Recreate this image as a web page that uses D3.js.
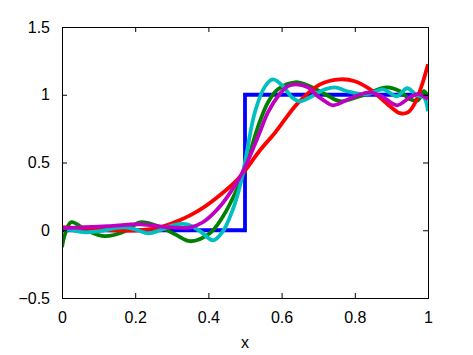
<!DOCTYPE html>
<html>
<head>
<meta charset="utf-8">
<script src="https://cdn.jsdelivr.net/npm/d3@7"></script>
<style>
  html, body { margin: 0; padding: 0; background: #fff; }
  svg { display: block; }
  text { font-family: "Liberation Sans", Arial, Helvetica, sans-serif; font-size: 16px; fill: #000; }
</style>
</head>
<body>
<svg id="chart" width="473" height="355"></svg>
<script>
// ---- data ----
const xTicks = [0, 0.2, 0.4, 0.6, 0.8, 1];
const yTicks = [-0.5, 0, 0.5, 1, 1.5];
const xLabel = "x";

const stepX = [0, 0.5, 0.5, 1];
const stepY = [0, 0, 1, 1];

const redX = [0, 0.049, 0.131, 0.213, 0.268, 0.309, 0.35, 0.385, 0.432, 0.478, 0.5, 0.541, 0.582, 0.645, 0.705, 0.76, 0.8, 0.842, 0.896, 0.923, 0.945, 0.964, 0.984, 1];
const redY = [0.022, 0.015, 0, 0, 0.022, 0.06, 0.11, 0.165, 0.26, 0.37, 0.44, 0.59, 0.72, 0.94, 1.077, 1.114, 1.1, 1.04, 0.915, 0.864, 0.87, 0.937, 1.077, 1.225];

const greenX = [0, 0.008, 0.025, 0.071, 0.117, 0.172, 0.213, 0.262, 0.309, 0.35, 0.404, 0.44, 0.478, 0.5, 0.536, 0.563, 0.59, 0.637, 0.683, 0.719, 0.76, 0.814, 0.888, 0.923, 0.951, 0.973, 0.989, 1];
const greenY = [-0.125, -0.03, 0.059, -0.007, -0.044, -0.007, 0.059, 0.03, -0.03, -0.081, -0.022, 0.103, 0.303, 0.45, 0.768, 0.945, 1.04, 1.092, 1.055, 1.004, 0.952, 0.989, 1.055, 1.026, 0.967, 0.96, 1.026, 0.98];

const cyanX = [0, 0.027, 0.063, 0.104, 0.145, 0.172, 0.2, 0.235, 0.268, 0.303, 0.342, 0.377, 0.413, 0.44, 0.467, 0.486, 0.5, 0.527, 0.555, 0.576, 0.604, 0.628, 0.65, 0.683, 0.719, 0.746, 0.779, 0.833, 0.877, 0.915, 0.943, 0.97, 0.989, 1];
const cyanY = [0.015, 0, -0.015, -0.007, 0.015, 0.022, 0.007, -0.022, 0, 0.037, 0.044, -0.007, -0.074, -0.007, 0.155, 0.325, 0.502, 0.871, 1.063, 1.114, 1.063, 0.982, 0.952, 0.989, 1.04, 1.055, 1.026, 1.004, 1.04, 0.989, 1.048, 0.996, 0.98, 0.878];

const magentaX = [0, 0.063, 0.126, 0.216, 0.29, 0.35, 0.385, 0.432, 0.478, 0.5, 0.536, 0.563, 0.59, 0.617, 0.639, 0.672, 0.699, 0.719, 0.74, 0.795, 0.842, 0.877, 0.915, 0.951, 0.973, 1];
const magentaY = [0.015, 0.022, 0.03, 0.044, 0.022, 0.022, 0.059, 0.177, 0.354, 0.465, 0.694, 0.871, 0.989, 1.063, 1.077, 1.055, 0.989, 0.952, 0.922, 0.982, 1.018, 0.982, 0.922, 0.982, 1.004, 0.967];

const series = [
  { name: "step", xs: stepX, ys: stepY, color: "#0000ff", curve: d3.curveLinear },
  { name: "green", xs: greenX, ys: greenY, color: "#008000", curve: d3.curveCatmullRom },
  { name: "red", xs: redX, ys: redY, color: "#ff0000", curve: d3.curveCatmullRom },
  { name: "cyan", xs: cyanX, ys: cyanY, color: "#00bfbf", curve: d3.curveCatmullRom },
  { name: "magenta", xs: magentaX, ys: magentaY, color: "#bf00bf", curve: d3.curveCatmullRom }
];

// ---- layout ----
const L = 62, R = 428, T = 27, B = 298;
const svg = d3.select("#chart");
const x = d3.scaleLinear().domain([0, 1]).range([L, R]);
const y = d3.scaleLinear().domain([-0.5, 1.5]).range([B, T]);

const plot = svg.append("g");
plot.append("defs").append("clipPath").attr("id", "clip")
  .append("rect").attr("x", L).attr("y", T).attr("width", R - L).attr("height", B - T);

const linesG = plot.append("g").attr("clip-path", "url(#clip)");
series.forEach(s => {
  const pts = s.xs.map((v, i) => [v, s.ys[i]]);
  linesG.append("path")
    .attr("d", d3.line().x(d => x(d[0])).y(d => y(d[1])).curve(s.curve)(pts))
    .attr("fill", "none")
    .attr("stroke", s.color)
    .attr("stroke-width", 3.8)
    .attr("stroke-linejoin", "miter");
});

// axes (MATLAB-style: inward ticks on all sides, box)
const tl = 5;
const xb = svg.append("g").attr("transform", `translate(0,${B})`)
  .call(d3.axisBottom(x).tickValues(xTicks).tickSize(-tl).tickPadding(14).tickFormat(d3.format("~g")));
const xt = svg.append("g").attr("transform", `translate(0,${T})`)
  .call(d3.axisTop(x).tickValues(xTicks).tickSize(-tl).tickFormat(""));
const yl = svg.append("g").attr("transform", `translate(${L},0)`)
  .call(d3.axisLeft(y).tickValues(yTicks).tickSize(-tl).tickPadding(12).tickFormat(d3.format("~g")));
const yr = svg.append("g").attr("transform", `translate(${R},0)`)
  .call(d3.axisRight(y).tickValues(yTicks).tickSize(-tl).tickFormat(""));

[xb, xt, yl, yr].forEach(g => {
  g.select(".domain").attr("stroke", "#000").attr("stroke-width", 1);
  g.selectAll(".tick line").attr("stroke", "#000");
  g.selectAll("text").attr("font-size", 16).attr("font-family", '"Liberation Sans", Arial, sans-serif').attr("fill", "#000");
});
xb.selectAll(".tick text").attr("dy", "0.71em");

svg.append("text").attr("x", (L + R) / 2 + 0).attr("y", 348)
  .attr("text-anchor", "middle").text(xLabel);
</script>
</body>
</html>
